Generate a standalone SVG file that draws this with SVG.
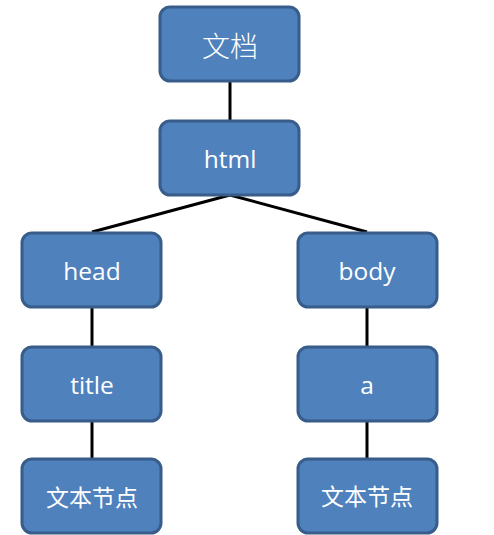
<svg xmlns="http://www.w3.org/2000/svg" width="494" height="535" viewBox="0 0 494 535">
<style>
.box{fill:#4F81BD;stroke:#385D8A;stroke-width:3}
.t{fill:#FFFFFF;font-family:"Open Sans","Noto Sans CJK SC",sans-serif;font-size:24.5px;text-anchor:middle;dominant-baseline:central}
.c{fill:#FFFFFF;font-family:"Noto Sans CJK SC",sans-serif;text-anchor:middle;dominant-baseline:central}
.ln{stroke:#000000;stroke-width:3;fill:none}
</style>
<rect width="494" height="535" fill="#FFFFFF"/>
<g id="connectors">
<line class="ln" x1="230" y1="81" x2="230" y2="120"/>
<line class="ln" x1="230" y1="195" x2="92" y2="232"/>
<line class="ln" x1="230" y1="195" x2="367" y2="232"/>
<line class="ln" x1="92" y1="308" x2="92" y2="346"/>
<line class="ln" x1="92" y1="421" x2="92" y2="459"/>
<line class="ln" x1="367" y1="308" x2="367" y2="346"/>
<line class="ln" x1="367" y1="421" x2="367" y2="459"/>
</g>
<g id="n-doc"><rect class="box" x="160" y="7" width="139" height="74" rx="10"/><text class="c" x="230" y="45" font-size="28" font-weight="300">文档</text></g>
<g id="n-html"><rect class="box" x="160" y="121" width="139" height="74" rx="10"/><text class="t" x="230" y="158">html</text></g>
<g id="n-head"><rect class="box" x="22" y="233" width="139" height="74" rx="10"/><text class="t" x="92" y="270">head</text></g>
<g id="n-body"><rect class="box" x="298" y="233" width="139" height="74" rx="10"/><text class="t" x="367" y="270">body</text></g>
<g id="n-title"><rect class="box" x="22" y="347" width="139" height="74" rx="10"/><text class="t" x="92" y="384">title</text></g>
<g id="n-a"><rect class="box" x="298" y="347" width="139" height="74" rx="10"/><text class="t" x="367" y="384">a</text></g>
<g id="n-text1"><rect class="box" x="22" y="459" width="139" height="74" rx="10"/><text class="c" x="92" y="496" font-size="23">文本节点</text></g>
<g id="n-text2"><rect class="box" x="298" y="459" width="139" height="74" rx="10"/><text class="c" x="367" y="495" font-size="23">文本节点</text></g>
</svg>
